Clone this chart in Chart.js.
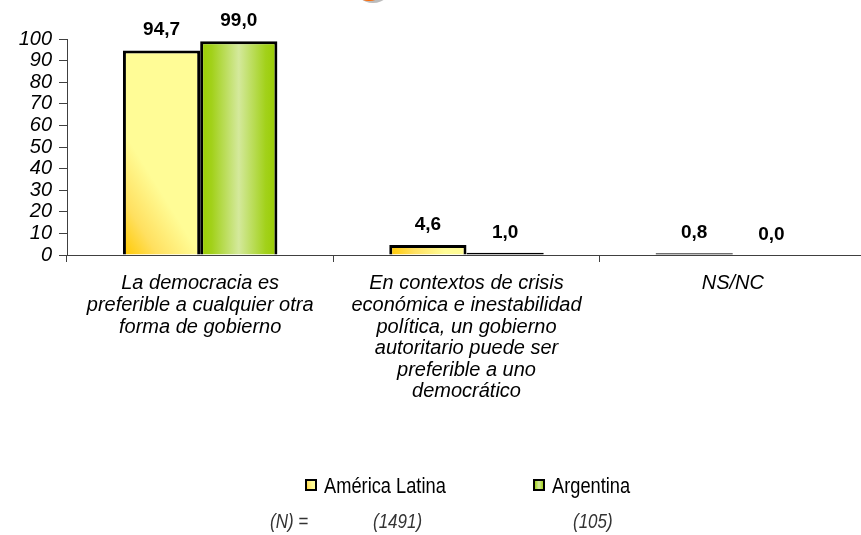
<!DOCTYPE html>
<html>
<head>
<meta charset="utf-8">
<script src="https://cdn.jsdelivr.net/npm/chart.js@4.4.0/dist/chart.umd.min.js"></script>
<style>
  html, body { margin: 0; padding: 0; background: #fff; overflow: hidden; }
  #wrap { position: absolute; left: 0; top: 0; width: 870px; height: 535px; }
</style>
</head>
<body>
<div id="wrap"><canvas id="opinionChart"></canvas></div>
<script>
  const categories = [
    ['La democracia es', 'preferible a cualquier otra', 'forma de gobierno'],
    ['En contextos de crisis', 'económica e inestabilidad', 'política, un gobierno',
     'autoritario puede ser', 'preferible a uno', 'democrático'],
    ['NS/NC']
  ];
  const seriesNames = ['América Latina', 'Argentina'];
  const latinAmerica = [94.7, 4.6, 0.8];
  const argentina = [99.0, 1.0, 0.0];
  const sampleSizes = ['(1491)', '(105)'];
  const yMin = 0, yMax = 100, yStep = 10;

  const FONT = "'Liberation Sans', Arial, sans-serif";
  Chart.defaults.font.family = FONT;
  Chart.defaults.color = '#000';

  function yellowFill(ctx, left, top, right, bottom) {
    const w = right - left, h = bottom - top;
    const g = ctx.createLinearGradient(left, bottom, left + 0.72 * w, bottom - 0.17 * h);
    g.addColorStop(0, '#FFC800');
    g.addColorStop(0.45, '#FFE060');
    g.addColorStop(1, '#FFFC96');
    return g;
  }

  function greenFill(ctx, left, top, right, bottom) {
    const g = ctx.createLinearGradient(left, 0, right, 0);
    g.addColorStop(0, '#99CC00');
    g.addColorStop(0.15, '#A2D11A');
    g.addColorStop(0.5, '#D4E99C');
    g.addColorStop(0.85, '#A2D11A');
    g.addColorStop(1, '#99CC00');
    return g;
  }

  const fills = [yellowFill, greenFill];
  const flatColors = ['#FFE060', '#A8D22A'];

  // gradients need the bar geometry, so they are made once the bars exist
  function barFill(c) {
    const el = c.element;
    if (!el || !isFinite(el.x) || !isFinite(el.width)) return flatColors[c.datasetIndex];
    return fills[c.datasetIndex](c.chart.ctx, el.x - el.width / 2, el.y, el.x + el.width / 2, el.base);
  }

  function narrowText(ctx, text, x, y, font, sx) {
    ctx.save();
    ctx.translate(x, y);
    ctx.scale(sx, 1);
    ctx.font = font;
    ctx.fillText(text, 0, 0);
    ctx.restore();
  }

  const valueLabels = {
    id: 'valueLabels',
    afterDatasetsDraw(chart) {
      const ctx = chart.ctx;
      ctx.save();
      ctx.font = 'bold 19px ' + FONT;
      ctx.fillStyle = '#000';
      ctx.textAlign = 'center';
      ctx.textBaseline = 'alphabetic';
      chart.data.datasets.forEach((ds, i) => {
        chart.getDatasetMeta(i).data.forEach((el, j) => {
          ctx.fillText(ds.data[j].toFixed(1).replace('.', ','), el.x, el.y - 15);
        });
      });
      ctx.restore();
    }
  };

  const logoPiece = {
    id: 'logoPiece',
    beforeDraw(chart) {
      const ctx = chart.ctx;
      ctx.save();
      ctx.fillStyle = 'rgba(160,160,160,0.7)';
      ctx.beginPath();
      ctx.arc(373, -17, 20, 0, Math.PI * 2);
      ctx.fill();
      const rg = ctx.createRadialGradient(364, -26, 2, 369, -19, 20);
      rg.addColorStop(0, '#FFB070');
      rg.addColorStop(1, '#FF6600');
      ctx.fillStyle = rg;
      ctx.beginPath();
      ctx.arc(369, -19, 20, 0, Math.PI * 2);
      ctx.fill();
      ctx.restore();
    }
  };

  const bottomLegend = {
    id: 'bottomLegend',
    afterDraw(chart) {
      const ctx = chart.ctx;
      const boxes = [305, 533];
      ctx.save();
      seriesNames.forEach((name, i) => {
        const bx = boxes[i], by = 479, s = 12;
        ctx.fillStyle = fills[i](ctx, bx, by, bx + s, by + s);
        ctx.fillRect(bx, by, s, s);
        ctx.strokeStyle = '#000';
        ctx.lineWidth = 2;
        ctx.strokeRect(bx + 1, by + 1, s - 2, s - 2);
        ctx.fillStyle = '#000';
        narrowText(ctx, name, bx + 19, 493, '22px ' + FONT, 0.83);
      });
      ctx.fillStyle = '#333';
      const nFont = 'italic 21px ' + FONT;
      narrowText(ctx, '(N) =', 270, 528, nFont, 0.81);
      narrowText(ctx, sampleSizes[0], 373, 528, nFont, 0.81);
      narrowText(ctx, sampleSizes[1], 573, 528, nFont, 0.81);
      ctx.restore();
    }
  };

  const barStyle = {
    backgroundColor: barFill,
    borderColor: '#000',
    borderWidth: 3,
    // very short bars are drawn as solid black lines, as in the source
    borderSkipped: c => (c.raw < 2 ? false : 'start'),
    categoryPercentage: 0.58,
    barPercentage: 1
  };

  const chart = new Chart(document.getElementById('opinionChart'), {
    type: 'bar',
    data: {
      labels: categories,
      datasets: [
        Object.assign({ label: seriesNames[0], data: latinAmerica }, barStyle),
        Object.assign({ label: seriesNames[1], data: argentina }, barStyle)
      ]
    },
    options: {
      responsive: true,
      maintainAspectRatio: false,
      animation: false,
      events: [],
      layout: { padding: { top: 39, right: 4, left: 0, bottom: 0 } },
      plugins: {
        legend: { display: false },
        tooltip: { enabled: false },
        title: { display: false }
      },
      scales: {
        x: {
          offset: true,
          grid: { display: true, offset: true, drawOnChartArea: false, drawTicks: true, tickLength: 7, color: '#404040' },
          border: { display: true, color: '#404040', width: 1 },
          ticks: {
            color: '#000',
            padding: 11,
            maxRotation: 0,
            autoSkip: false,
            font: { size: 20, style: 'italic', lineHeight: 1.08 }
          },
          afterFit: s => { s.height = 280; }
        },
        y: {
          min: yMin,
          max: yMax,
          grid: { drawOnChartArea: false, drawTicks: true, tickLength: 8, color: '#404040' },
          border: { display: true, color: '#404040', width: 1 },
          ticks: {
            stepSize: yStep,
            autoSkip: false,
            color: '#000',
            padding: 7,
            font: { size: 20, style: 'italic', lineHeight: 1 }
          },
          afterFit: s => { s.width = 67; }
        }
      }
    },
    plugins: [logoPiece, valueLabels, bottomLegend]
  });
  chart.update('none');
</script>
</body>
</html>
